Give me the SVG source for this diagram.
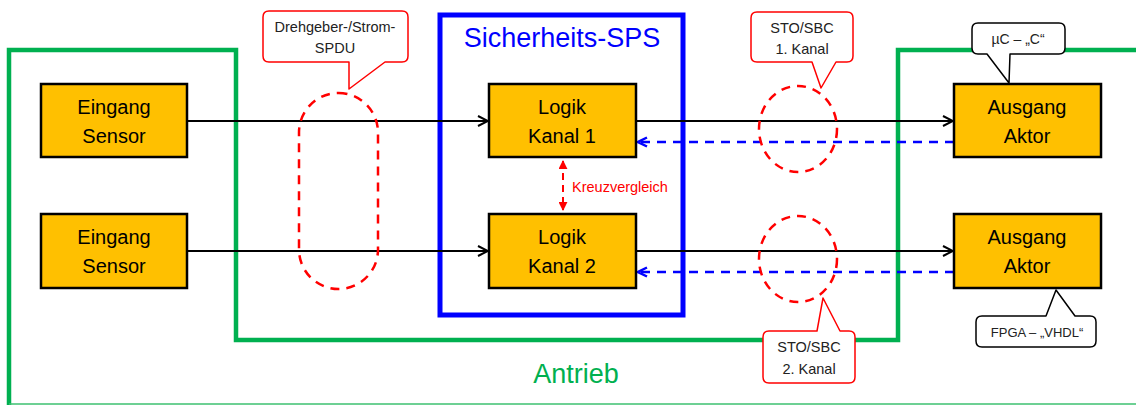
<svg xmlns="http://www.w3.org/2000/svg" width="1136" height="405" viewBox="0 0 1136 405">
<style>
.node rect{fill:#FFC000;stroke:#000;stroke-width:2.5}
.nt{font-family:"Liberation Sans",Arial,sans-serif;font-size:20px;fill:#000;text-anchor:middle}
.ct{font-family:"Liberation Sans",Arial,sans-serif;font-size:14.5px;fill:#222;text-anchor:middle}
.co-red{fill:#fff;stroke:#FF0000;stroke-width:1.5;stroke-linejoin:round}
.co-blk{fill:#fff;stroke:#000;stroke-width:1.5;stroke-linejoin:round}
.ell{fill:none;stroke:#FF0000;stroke-width:2.5;stroke-dasharray:9 7}
.fw{stroke:#000;stroke-width:2;fill:none}
.bw{stroke:#0000FF;stroke-width:2.5;stroke-dasharray:9 7;fill:none}
</style>
<defs>
<marker id="ablk" viewBox="0 0 12 12" refX="11" refY="6" markerWidth="12" markerHeight="12" markerUnits="userSpaceOnUse" orient="auto">
<path d="M1,1 L11,6 L1,11" fill="none" stroke="#000" stroke-width="2"/>
</marker>
<marker id="ablu" viewBox="0 0 12 12" refX="11" refY="6" markerWidth="12" markerHeight="12" markerUnits="userSpaceOnUse" orient="auto">
<path d="M2,1.5 L11,6 L2,10.5" fill="none" stroke="#0000FF" stroke-width="2.5"/>
</marker>
<marker id="ared" viewBox="0 0 10 10" refX="9" refY="5" markerWidth="9" markerHeight="9" markerUnits="userSpaceOnUse" orient="auto-start-reverse">
<path d="M0,0 L10,5 L0,10 Z" fill="#FF0000"/>
</marker>
</defs>
<rect width="1136" height="405" fill="#fff"/>
<g id="antrieb">
<path d="M1136,50 H898 V340 H236 V50 H9 V405" fill="none" stroke="#00B050" stroke-width="4.5"/>
<line x1="9" y1="404" x2="1136" y2="404" stroke="#3CC070" stroke-width="1.5"/>
<text x="576" y="383" font-family="Liberation Sans,Arial,sans-serif" font-size="27" fill="#00B050" text-anchor="middle">Antrieb</text>
</g>
<g id="sps">
<rect x="440" y="15" width="243" height="300" fill="none" stroke="#0000FF" stroke-width="5"/>
<text x="562" y="47" font-family="Liberation Sans,Arial,sans-serif" font-size="27" fill="#0000FF" text-anchor="middle">Sicherheits-SPS</text>
</g>
<g id="connectors">
<line class="fw" x1="187" y1="121" x2="488" y2="121" marker-end="url(#ablk)"/>
<line class="fw" x1="187" y1="251" x2="488" y2="251" marker-end="url(#ablk)"/>
<line class="fw" x1="636" y1="121" x2="953" y2="121" marker-end="url(#ablk)"/>
<line class="fw" x1="636" y1="251" x2="953" y2="251" marker-end="url(#ablk)"/>
<line class="bw" x1="954" y1="142" x2="638" y2="142" marker-end="url(#ablu)"/>
<line class="bw" x1="954" y1="272" x2="638" y2="272" marker-end="url(#ablu)"/>
<line x1="563" y1="161" x2="563" y2="210" stroke="#FF0000" stroke-width="2" stroke-dasharray="7 5" marker-start="url(#ared)" marker-end="url(#ared)"/>
<text x="572" y="192" font-family="Liberation Sans,Arial,sans-serif" font-size="14.5" fill="#FF0000">Kreuzvergleich</text>
</g>
<g id="n-eingang1" class="node"><rect x="41" y="84" width="146" height="73"/><text class="nt" x="114" y="114">Eingang</text><text class="nt" x="114" y="143">Sensor</text></g>
<g id="n-eingang2" class="node"><rect x="41" y="214" width="146" height="74"/><text class="nt" x="114" y="244">Eingang</text><text class="nt" x="114" y="273">Sensor</text></g>
<g id="n-logik1" class="node"><rect x="489" y="84" width="147" height="73"/><text class="nt" x="562" y="114">Logik</text><text class="nt" x="562" y="143">Kanal 1</text></g>
<g id="n-logik2" class="node"><rect x="489" y="214" width="147" height="74"/><text class="nt" x="562" y="244">Logik</text><text class="nt" x="562" y="273">Kanal 2</text></g>
<g id="n-ausgang1" class="node"><rect x="954" y="84" width="147" height="73"/><text class="nt" x="1027" y="114">Ausgang</text><text class="nt" x="1027" y="143">Aktor</text></g>
<g id="n-ausgang2" class="node"><rect x="954" y="214" width="147" height="74"/><text class="nt" x="1027" y="244">Ausgang</text><text class="nt" x="1027" y="273">Aktor</text></g>
<g id="e-spdu"><rect class="ell" x="299" y="93" width="79" height="196" rx="39.5" ry="39.5"/></g>
<g id="e-sto1"><ellipse class="ell" cx="798" cy="129" rx="39" ry="43"/></g>
<g id="e-sto2"><ellipse class="ell" cx="798" cy="259" rx="39" ry="43"/></g>
<g id="c-spdu">
<path class="co-red" d="M269,11 H402 Q408,11 408,17 V56 Q408,62 402,62 H385 L349,89 V62 H269 Q263,62 263,56 V17 Q263,11 269,11 Z"/>
<text class="ct" x="335" y="32">Drehgeber-/Strom-</text>
<text class="ct" x="335" y="53">SPDU</text>
</g>
<g id="c-sto1">
<path class="co-red" d="M757,12 H847 Q853,12 853,18 V56 Q853,62 847,62 H836 L821,88 L812,62 H757 Q751,62 751,56 V18 Q751,12 757,12 Z"/>
<text class="ct" x="802" y="33">STO/SBC</text>
<text class="ct" x="802" y="54">1. Kanal</text>
</g>
<g id="c-sto2">
<path class="co-red" d="M769,331 H817 L823,298 L840,331 H849 Q855,331 855,337 V377 Q855,383 849,383 H769 Q763,383 763,377 V337 Q763,331 769,331 Z"/>
<text class="ct" x="809" y="352">STO/SBC</text>
<text class="ct" x="809" y="374">2. Kanal</text>
</g>
<g id="c-uc">
<path class="co-blk" d="M978,23 H1059 Q1065,23 1065,29 V48 Q1065,54 1059,54 H1010 L1009,83 L987,54 H978 Q972,54 972,48 V29 Q972,23 978,23 Z"/>
<text class="ct" x="1018" y="44" style="font-size:14px">µC – „C“</text>
</g>
<g id="c-fpga">
<path class="co-blk" d="M982,316 H1046 L1056,290 L1075,316 H1090 Q1096,316 1096,322 V341 Q1096,347 1090,347 H982 Q976,347 976,341 V322 Q976,316 982,316 Z"/>
<text class="ct" x="1037" y="337" style="font-size:13px">FPGA – „VHDL“</text>
</g>
</svg>
